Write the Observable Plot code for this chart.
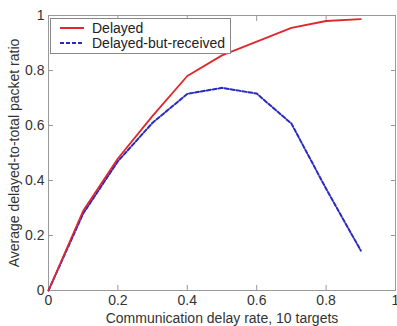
<!DOCTYPE html>
<html><head><meta charset="utf-8">
<script src="https://cdn.jsdelivr.net/npm/d3@7"></script>
<script src="https://cdn.jsdelivr.net/npm/@observablehq/plot@0.6"></script>
<style>
body{margin:0;background:#fff;font-family:"Liberation Sans",Arial,sans-serif;}
#wrap{position:relative;width:397px;height:326px;overflow:hidden;}
#legend{position:absolute;left:50px;top:18px;width:179px;height:34px;border:1px solid #888;background:#fff;font-size:14px;line-height:14px;color:#222;}
#legend .row{position:absolute;left:8px;height:14px;display:flex;align-items:center;}
#legend svg{margin-right:7px;}
</style></head><body>
<div id="wrap"><div id="legend"></div></div>
<script>
const rates = [0, 0.1, 0.2, 0.3, 0.4, 0.5, 0.6, 0.7, 0.8, 0.9];
const delayed = [0, 0.29, 0.48, 0.635, 0.78, 0.855, 0.905, 0.955, 0.98, 0.987];
const received = [0, 0.28, 0.47, 0.61, 0.715, 0.737, 0.716, 0.607, 0.37, 0.145];
const ticks = [0, 0.2, 0.4, 0.6, 0.8, 1];
const seriesNames = ["Delayed", "Delayed-but-received"];
const colors = ["#e0262b", "#2a2ac0"];

const rows = rates.flatMap((r, i) => [
  {x: r, y: delayed[i], s: seriesNames[0]},
  {x: r, y: received[i], s: seriesNames[1]}
]);
const fmt = d => String(d);
const chart = Plot.plot({
  width: 397, height: 326,
  marginLeft: 48, marginRight: 2, marginTop: 15, marginBottom: 36,
  style: {fontFamily: "Liberation Sans, Arial, sans-serif", fontSize: "14px", color: "#222", background: "#fff", overflow: "visible"},
  x: {domain: [0, 1]},
  y: {domain: [0, 1]},
  marks: [
    Plot.frame({stroke: "#999"}),
    Plot.axisX(ticks, {tickSize: -5, tickPadding: 10, stroke: "#999", fill: "#333", tickFormat: fmt, label: "Communication delay rate, 10 targets", labelAnchor: "center", labelOffset: 32, labelArrow: "none"}),
    Plot.axisX(ticks, {anchor: "top", tickSize: -5, stroke: "#999", tickFormat: () => "", label: null}),
    Plot.axisY(ticks, {tickSize: -5, tickPadding: 9, stroke: "#999", fill: "#333", tickFormat: fmt, label: "Average delayed-to-total packet ratio", labelAnchor: "center", labelOffset: 39, labelArrow: "none"}),
    Plot.axisY(ticks, {anchor: "right", tickSize: -5, stroke: "#999", tickFormat: () => "", label: null}),
    Plot.line(rows.filter(d => d.s === seriesNames[1]), {x: "x", y: "y", stroke: colors[1], strokeWidth: 2, strokeDasharray: "4,2"}),
    Plot.line(rows.filter(d => d.s === seriesNames[0]), {x: "x", y: "y", stroke: colors[0], strokeWidth: 1.8})
  ]
});
document.getElementById("wrap").prepend(chart);
const leg = document.getElementById("legend");
seriesNames.forEach((n, i) => {
  const row = document.createElement("div");
  row.className = "row";
  row.style.top = (i === 0 ? 2 : 17) + "px";
  row.innerHTML = `<svg width="26" height="14"><line x1="1" x2="25" y1="7" y2="7" stroke="${colors[i]}" stroke-width="2" ${i ? 'stroke-dasharray="4,2"' : ''}/></svg><span>${n}</span>`;
  leg.appendChild(row);
});
</script></body></html>
